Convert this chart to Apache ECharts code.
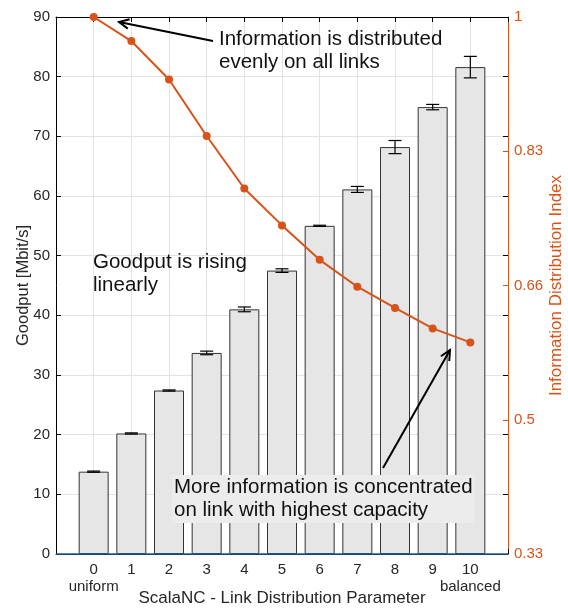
<!DOCTYPE html>
<html>
<head>
<meta charset="utf-8">
<script src="https://cdn.jsdelivr.net/npm/echarts@6/dist/echarts.min.js"></script>
<style>
  html, body { margin: 0; padding: 0; background: #fff; }
  #chart { width: 568px; height: 608px; }
</style>
</head>
<body>
<div id="chart"></div>
<script>
// Link distribution parameter (x), goodput with spread, information distribution index
const params = [0, 1, 2, 3, 4, 5, 6, 7, 8, 9, 10];
const paramNames = { 0: 'uniform', 10: 'balanced' };
const goodput = [13.8, 20.2, 27.4, 33.7, 41.0, 47.5, 55.0, 61.1, 68.2, 74.9, 81.6];
const goodputErr = [0.1, 0.1, 0.1, 0.3, 0.4, 0.3, 0.1, 0.5, 1.1, 0.45, 1.8];
const distIndex = [1.0, 0.970, 0.922, 0.8515, 0.786, 0.740, 0.697, 0.6635, 0.637, 0.6115, 0.594];
const indexTickLabels = ['0.33', '0.5', '0.66', '0.83', '1'];

const FONT = '"Liberation Sans", Arial, sans-serif';
const ORANGE = '#D95319';
const TEXT = '#262626';
const GRIDC = '#e3e3e3';
const NOTE_FONT = '20.5px ' + FONT;

const chart = echarts.init(document.getElementById('chart'), null, { renderer: 'canvas' });

function arrow(sx, sy, tx, ty) {
  const dx = tx - sx, dy = ty - sy;
  const len = Math.hypot(dx, dy);
  const ux = dx / len, uy = dy / len;
  const L = 11, a = Math.PI / 7;
  const h1 = [tx - L * (ux * Math.cos(a) - uy * Math.sin(a)), ty - L * (uy * Math.cos(a) + ux * Math.sin(a))];
  const h2 = [tx - L * (ux * Math.cos(a) + uy * Math.sin(a)), ty - L * (uy * Math.cos(a) - ux * Math.sin(a))];
  const st = { stroke: '#000', lineWidth: 2, fill: null };
  return {
    type: 'group', z: 50,
    children: [
      { type: 'line', shape: { x1: sx, y1: sy, x2: tx, y2: ty }, style: st, z: 50 },
      { type: 'polyline', shape: { points: [h1, [tx, ty], h2] }, style: st, z: 50 }
    ]
  };
}

const option = {
  animation: false,
  backgroundColor: '#fff',
  grid: { left: 56, right: 60, top: 17, bottom: 54, containLabel: false, outerBoundsMode: 'none' },
  xAxis: [
    {
      type: 'value', position: 'bottom', min: -1, max: 11, interval: 1,
      axisLine: { show: true, onZero: false, lineStyle: { color: '#000', width: 1 } },
      axisTick: { show: true, inside: true, length: 5, lineStyle: { color: '#000' } },
      axisLabel: {
        margin: 7,
        formatter: function (v) {
          if (v < 0 || v > 10) return '';
          const s = '{n|' + v + '}';
          return paramNames[v] ? s + '\n{s|' + paramNames[v] + '}' : s;
        },
        rich: {
          n: { fontSize: 15, fontFamily: FONT, color: TEXT, lineHeight: 17 },
          s: { fontSize: 15, fontFamily: FONT, color: TEXT, lineHeight: 17 }
        }
      },
      splitLine: { show: true, lineStyle: { color: GRIDC, width: 1 } },
      name: 'ScalaNC - Link Distribution Parameter',
      nameLocation: 'middle', nameGap: 36, nameMoveOverlap: false,
      nameTextStyle: { fontSize: 17, fontFamily: FONT, color: TEXT }
    },
    {
      type: 'value', position: 'top', min: -1, max: 11, interval: 1,
      axisLine: { show: true, onZero: false, lineStyle: { color: '#000', width: 1 } },
      axisTick: { show: true, inside: true, length: 5, lineStyle: { color: '#000' } },
      axisLabel: { show: false },
      splitLine: { show: false }
    }
  ],
  yAxis: [
    {
      type: 'value', position: 'left', min: 0, max: 90, interval: 10,
      axisLine: { show: true, onZero: false, lineStyle: { color: '#000', width: 1 } },
      axisTick: { show: true, inside: true, length: 5, lineStyle: { color: '#000' } },
      axisLabel: { fontSize: 15, fontFamily: FONT, color: TEXT, margin: 6 },
      splitLine: { show: true, lineStyle: { color: GRIDC, width: 1 } },
      name: 'Goodput [Mbit/s]', nameLocation: 'middle', nameGap: 24, nameRotate: 90, nameMoveOverlap: false,
      nameTextStyle: { fontSize: 16.5, fontFamily: FONT, color: TEXT }
    },
    {
      type: 'value', position: 'right', min: 0.33, max: 1, interval: 0.1675,
      axisLine: { show: true, onZero: false, lineStyle: { color: ORANGE, width: 1 } },
      axisTick: { show: true, inside: true, length: 5, lineStyle: { color: ORANGE } },
      axisLabel: {
        fontSize: 15, fontFamily: FONT, color: ORANGE, margin: 6,
        formatter: function (v) {
          const i = Math.round((v - 0.33) / 0.1675);
          return indexTickLabels[i] !== undefined ? indexTickLabels[i] : '';
        }
      },
      splitLine: { show: false },
      name: 'Information Distribution Index', nameLocation: 'middle', nameGap: 40, nameRotate: 90, nameMoveOverlap: false,
      nameTextStyle: { fontSize: 17, fontFamily: FONT, color: ORANGE }
    },
    {
      type: 'value', position: 'right', min: 0, max: 90, interval: 10,
      axisLine: { show: false, onZero: false },
      axisTick: { show: true, inside: true, length: 5, lineStyle: { color: '#000' } },
      axisLabel: { show: false },
      splitLine: { show: false }
    }
  ],
  series: [
    {
      type: 'bar', xAxisIndex: 0, yAxisIndex: 0,
      data: params.map((p, i) => [p, goodput[i]]),
      barWidth: 30,
      itemStyle: { color: '#e6e6e6', borderColor: '#333', borderWidth: 1 },
      z: 2,
      markLine: {
        silent: true, symbol: 'none', label: { show: false },
        lineStyle: { color: '#1f5f96', width: 1.5, type: 'solid' },
        data: [{ yAxis: 0 }]
      }
    },
    {
      type: 'custom', xAxisIndex: 0, yAxisIndex: 0, z: 3,
      data: params.map((p, i) => [p, goodput[i], goodputErr[i]]),
      renderItem: function (prm, api) {
        const x = api.value(0), y = api.value(1), e = api.value(2);
        const t = api.coord([x, y + e]);
        const b = api.coord([x, y - e]);
        const hw = 6.5;
        const st = { stroke: '#000', lineWidth: 1.2 };
        return {
          type: 'group',
          children: [
            { type: 'line', shape: { x1: t[0], y1: t[1], x2: b[0], y2: b[1] }, style: st },
            { type: 'line', shape: { x1: t[0] - hw, y1: t[1], x2: t[0] + hw, y2: t[1] }, style: st },
            { type: 'line', shape: { x1: b[0] - hw, y1: b[1], x2: b[0] + hw, y2: b[1] }, style: st }
          ]
        };
      }
    },
    {
      type: 'line', xAxisIndex: 0, yAxisIndex: 1, z: 5,
      data: params.map((p, i) => [p, distIndex[i]]),
      symbol: 'circle', symbolSize: 8,
      lineStyle: { color: ORANGE, width: 2 },
      itemStyle: { color: ORANGE }
    }
  ],
  graphic: [
    {
      type: 'text', left: 219, top: 28, z: 60,
      style: { text: 'Information is distributed\nevenly on all links', font: NOTE_FONT, fill: '#111', lineHeight: 23 }
    },
    arrow(213, 41, 119, 22),
    {
      type: 'text', left: 93, top: 251, z: 60,
      style: { text: 'Goodput is rising\nlinearly', font: NOTE_FONT, fill: '#111', lineHeight: 23 }
    },
    arrow(383, 468, 450, 350),
    {
      type: 'text', left: 172, top: 475, z: 60,
      style: {
        text: 'More information is concentrated\non link with highest capacity', font: NOTE_FONT,
        fill: '#111', lineHeight: 23, backgroundColor: '#ececec', padding: [1, 2, 1, 2]
      }
    }
  ]
};

chart.setOption(option);
</script>
</body>
</html>
